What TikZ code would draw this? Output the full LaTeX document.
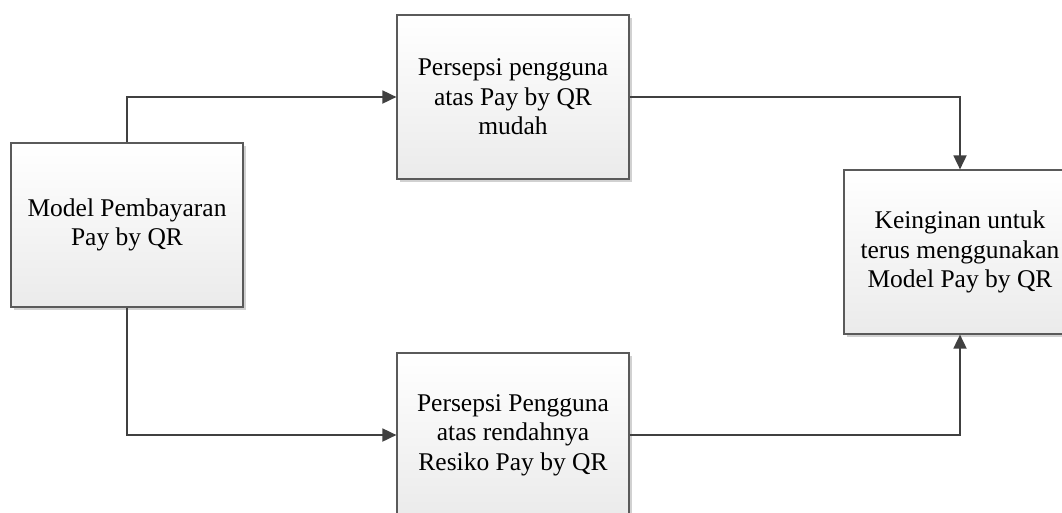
\documentclass[tikz,border=0pt]{standalone}
\usepackage{fontspec}
\setmainfont{Liberation Serif}
\usetikzlibrary{arrows.meta,shadows}
\definecolor{linec}{HTML}{404040}
\definecolor{boxborder}{HTML}{5A5A5A}
\tikzset{
  procbox/.style={draw=boxborder, line width=1.2pt, rectangle,
    minimum width=232pt, minimum height=164pt, inner sep=0pt,
    top color=white, bottom color=black!8, align=center,
    font=\fontsize{25.5}{29.5}\selectfont,
    drop shadow={shadow xshift=3pt, shadow yshift=-3pt, fill=black!18, opacity=1}},
  conn/.style={draw=linec, line width=1.8pt,
    -{Triangle[length=14pt,width=13pt]}}
}
\begin{document}
\begin{tikzpicture}[x=1pt,y=-1pt]
\useasboundingbox (0,0) rectangle (1062,512);
\clip (0,0) rectangle (1062,512);
\fill[white] (0,0) rectangle (1062,512);
\node[procbox] (b1) at (127,225) {Model Pembayaran\\Pay by QR};
\node[procbox] (b2) at (513,97) {Persepsi pengguna\\atas Pay by QR\\mudah};
\node[procbox] (b3) at (960,252) {Keinginan untuk\\terus menggunakan\\Model Pay by QR};
\node[procbox] (b4) at (513,435) {Persepsi Pengguna\\atas rendahnya\\Resiko Pay by QR};
\draw[conn] (b1.north) |- (b2.west);
\draw[conn] (b2.east) -| (b3.north);
\draw[conn] (b1.south) |- (b4.west);
\draw[conn] (b4.east) -| (b3.south);
\end{tikzpicture}
\end{document}
